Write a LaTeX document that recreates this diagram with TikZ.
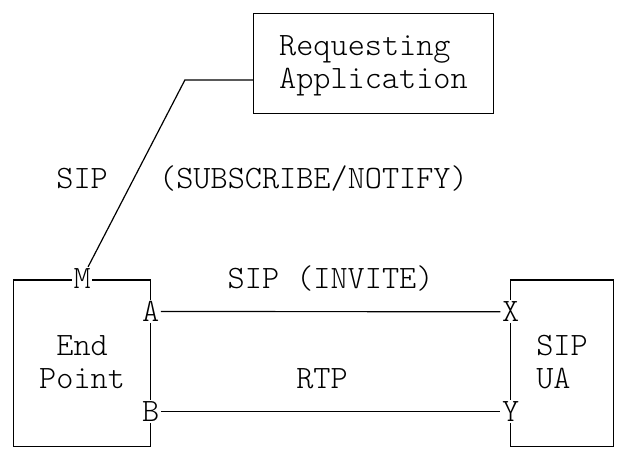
\documentclass[tikz,border=0pt]{standalone}
\usepackage{fontspec}
\setmonofont{Latin Modern Mono Light}

\begin{document}
\begin{tikzpicture}[x=0.75pt, y=-0.75pt,
                    every node/.style={font=\ttfamily\fontsize{24.49pt}{25pt}\selectfont}]
    \tikzstyle{box}=[rectangle, draw=black, line width=0.9pt, inner sep=0pt]
    \tikzstyle{port}=[fill=white, inner sep=1pt, anchor=base]
    \tikzstyle{txt}=[inner sep=0pt, anchor=base]
    \tikzstyle{connect}=[line width=0.9pt]

      \useasboundingbox (0,0) rectangle (619,454);

      % boxes
      \node[box, minimum width=179.9pt, minimum height=75pt] (app) at (373.45,63.3) {};
      \node[box, minimum width=102.8pt, minimum height=125pt] (endpoint) at (82.05,363.3) {};
      \node[box, minimum width=77.1pt, minimum height=125pt] (sipua) at (562,363.3) {};

      % texts in the boxes
      \node[txt] (req) at (364.9,55) {Requesting};
      \node[txt] (appl) at (373.4,88.4) {Application};
      \node[txt] (end) at (82.1,355) {End};
      \node[txt] (point) at (82.1,388.4) {Point};
      \node[txt] (sip) at (562,355) {SIP};
      \node[txt] (ua) at (553.4,388.4) {UA};

      % ports
      \node[port] (M) at (82.1,288.4) {M};
      \node[port] (A) at (150.6,321.7) {A};
      \node[port] (B) at (150.6,421.7) {B};
      \node[port] (X) at (510.6,321.7) {X};
      \node[port] (Y) at (510.6,421.7) {Y};
      \coordinate (bend) at (184.9,80);

      \draw[connect] ([yshift=-12.5pt]app.west) -- (bend) -- (M);
      \path
        (A) edge [connect] (X)
        (B) edge [connect] (Y);

      % labels on the connectors
      \node[txt] (subproto) at (82.1,188.4) {SIP};
      \node[txt] (subnotify) at (313.5,188.4) {(SUBSCRIBE/NOTIFY)};
      \node[txt] (invite) at (330.6,288.4) {SIP (INVITE)};
      \node[txt] (rtp) at (322,388.4) {RTP};
    \end{tikzpicture}
\end{document}
